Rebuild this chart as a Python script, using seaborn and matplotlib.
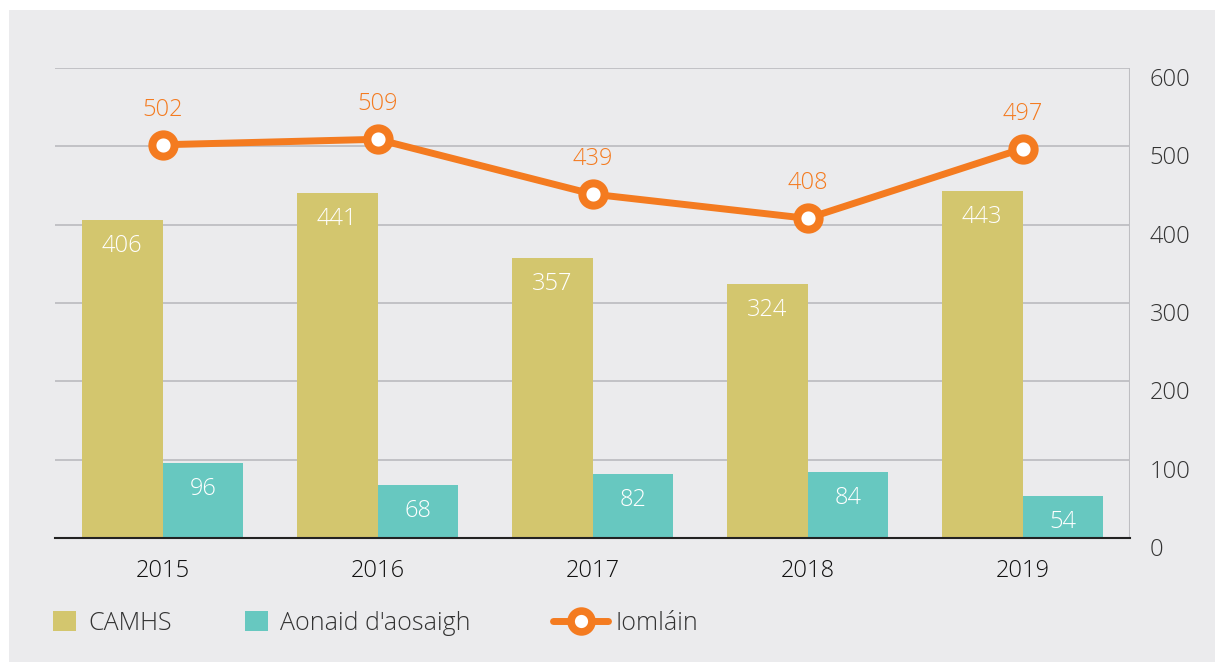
import numpy as np
import pandas as pd
import matplotlib
matplotlib.use("Agg")
import matplotlib.pyplot as plt
import seaborn as sns
from matplotlib.patches import Patch, Rectangle
from matplotlib.lines import Line2D

years = ["2015", "2016", "2017", "2018", "2019"]
camhs = [406, 441, 357, 324, 443]
aonaid = [96, 68, 82, 84, 54]
iomlain = [502, 509, 439, 408, 497]
series_names = ["CAMHS", "Aonaid d'aosaigh", "Iomláin"]
y_ticks = [0, 100, 200, 300, 400, 500, 600]

c_camhs = "#D3C66E"
c_aonaid = "#67C8C0"
c_total = "#F47B20"
bg = "#EBEBED"
grid_c = "#BEBEC2"
txt_c = "#333333"

sns.set_theme(style="white")
plt.rcParams["font.family"] = ["Open Sans", "DejaVu Sans"]
plt.rcParams["font.weight"] = "light"

fig = plt.figure(figsize=(12.15, 6.62), dpi=100)
fig.patch.set_facecolor("white")
fig.patches.append(Rectangle((9 / 1215, 0), 1 - 9 / 1215, 1 - 10 / 662,
                             transform=fig.transFigure, facecolor=bg,
                             edgecolor="none", zorder=-10))

ax = fig.add_axes([55 / 1215, 1 - 538 / 662, (1130 - 55) / 1215, (538 - 68) / 662])
ax.patch.set_alpha(0)

df = pd.DataFrame({
    "year": years * 2,
    "value": camhs + aonaid,
    "series": [series_names[0]] * len(years) + [series_names[1]] * len(years),
})

sns.barplot(data=df, x="year", y="value", hue="series",
            palette=[c_camhs, c_aonaid], width=0.75, gap=0,
            saturation=1, linewidth=0, ax=ax, legend=False, zorder=3)

sns.pointplot(x=years, y=iomlain, color=c_total, ax=ax, markers="o",
              linestyles="-", errorbar=None)

for ln in ax.lines:
    ln.set_linewidth(5)
    ln.set_markersize(16)
    ln.set_markerfacecolor("white")
    ln.set_markeredgecolor(c_total)
    ln.set_markeredgewidth(5.8)
    ln.set_zorder(5)

# value labels inside the bars
for cont in ax.containers:
    for bar in cont:
        h = bar.get_height()
        ax.annotate(f"{int(round(h))}", (bar.get_x() + bar.get_width() / 2, h),
                    xytext=(0, -26), textcoords="offset pixels",
                    ha="center", va="center", color="white", fontsize=17,
                    zorder=6)

# totals above the line markers
for i, v in enumerate(iomlain):
    ax.annotate(f"{v}", (i, v), xytext=(0, 35), textcoords="offset pixels",
                ha="center", va="center", color=c_total, fontsize=17, zorder=6)

ax.set_xlim(-0.5, 4.5)
ax.set_ylim(0, 600)
ax.set_yticks(y_ticks)
ax.yaxis.tick_right()
ax.grid(axis="y", color=grid_c, linewidth=1.3, zorder=0)
ax.set_axisbelow(True)
ax.axvline(4.5, color=grid_c, linewidth=1.5, zorder=1)
for s in ["top", "left", "right"]:
    ax.spines[s].set_visible(False)
ax.spines["bottom"].set_color("#222222")
ax.spines["bottom"].set_linewidth(1.5)
ax.spines["bottom"].set_zorder(4)
ax.tick_params(axis="both", length=0, labelsize=17, colors=txt_c)
ax.tick_params(axis="y", pad=14)
ax.tick_params(axis="x", pad=15, colors="#111111")
for lbl in ax.get_yticklabels():
    lbl.set_verticalalignment("top")
ax.set_xlabel("")
ax.set_ylabel("")

patch_handles = [
    Patch(facecolor=c_camhs, edgecolor="none"),
    Patch(facecolor=c_aonaid, edgecolor="none"),
]
leg1 = fig.legend(patch_handles, series_names[:2], loc="center left",
                  bbox_to_anchor=(53 / 1215, 1 - 623 / 662), ncol=2,
                  frameon=False, fontsize=18, handlelength=0.9, handleheight=0.9,
                  columnspacing=2.95, handletextpad=0.5, borderpad=0,
                  borderaxespad=0)
line_handle = Line2D([0], [0], color=c_total, linewidth=5, marker="o",
                     markersize=15, markerfacecolor="white",
                     markeredgecolor=c_total, markeredgewidth=5.5)
leg2 = fig.legend([line_handle], series_names[2:], loc="center left",
                  bbox_to_anchor=(553 / 1215, 1 - 623 / 662),
                  frameon=False, fontsize=18, handlelength=2.2,
                  handletextpad=0.3, borderpad=0, borderaxespad=0)
for leg in (leg1, leg2):
    for t in leg.get_texts():
        t.set_color(txt_c)

fig.savefig("out.png", dpi=100, facecolor=fig.get_facecolor())
